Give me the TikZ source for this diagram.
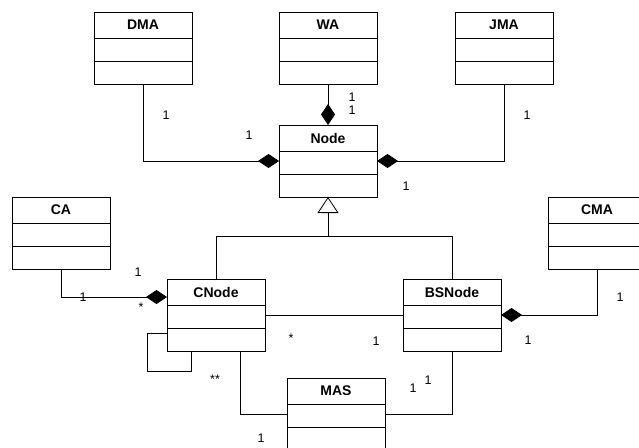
\documentclass[tikz,border=0pt]{standalone}
\usepackage{fontspec}
\setmainfont{Liberation Sans}
\usetikzlibrary{arrows.meta}
\begin{document}
\begin{tikzpicture}[x=1pt,y=-1pt,
  cls/.style={draw,line width=1pt,minimum width=98pt,minimum height=72pt,inner sep=0pt,outer sep=0pt,anchor=north west},
  mult/.style={font=\fontsize{12.5}{14}\selectfont,inner sep=0pt},
  link/.style={line width=0.8pt},
  comp/.style={-{Diamond[length=21pt,width=14pt]}}]
\useasboundingbox (0,0) rectangle (639,447);
\clip (0,0) rectangle (639,447);
\foreach \n/\x/\y/\t in {dma/94/12/DMA,wa/279/12/WA,jma/455/12/JMA,nd/279/125/Node,ca/12/197/CA,cma/548/197/CMA,cn/167/279/CNode,bsn/403/279/BSNode,mas/287/378/MAS}{
  \node[cls] (\n) at (\x,\y) {};
  \draw[line width=1pt] ([yshift=-26pt]\n.north west)--([yshift=-26pt]\n.north east);
  \draw[line width=1pt] ([yshift=-49pt]\n.north west)--([yshift=-49pt]\n.north east);
  \node[font=\bfseries\fontsize{14}{16}\selectfont] (\n-t) at ([yshift=-13pt]\n.north) {\t};
}
\draw[link,comp] (dma.south) |- (nd.west);
\draw[link,comp] (wa.south) -- (nd.north);
\draw[link,comp] (jma.south) |- (nd.east);
\coordinate (gen) at ([yshift=-39pt]nd.south);
\draw[link,-{Triangle[open,length=16pt,width=21pt]}] (gen) -- (nd.south);
\draw[link] (cn.north) -- (cn.north |- gen) -- (bsn.north |- gen) -- (bsn.north);
\draw[link,comp] (ca.south) |- ([yshift=-18pt]cn.north west);
\draw[link] (cn.east) -- (bsn.west);
\draw[link,comp] (cma.south) |- (bsn.east);
\draw[link] ([yshift=-54pt]cn.north west) -- ++(-20,0) -- ++(0,38) -| ([xshift=24pt]cn.south west);
\draw[link] ([xshift=73pt]cn.south west) |- (mas.west);
\draw[link] (bsn.south) |- (mas.east);
\foreach \x/\y/\t [count=\i] in {166/115/1,249/135/1,352/97/1,352/110/1,527/115/1,406/186/1,138/272/1,83/297/1,141/307/*,291/338/*,376/341/1,215/379/**,261/438/1,413/388/1,428/380/1,620/297/1,528/340/1}
  \node[mult] (m\i) at (\x,\y) {\t};
\end{tikzpicture}
\end{document}
